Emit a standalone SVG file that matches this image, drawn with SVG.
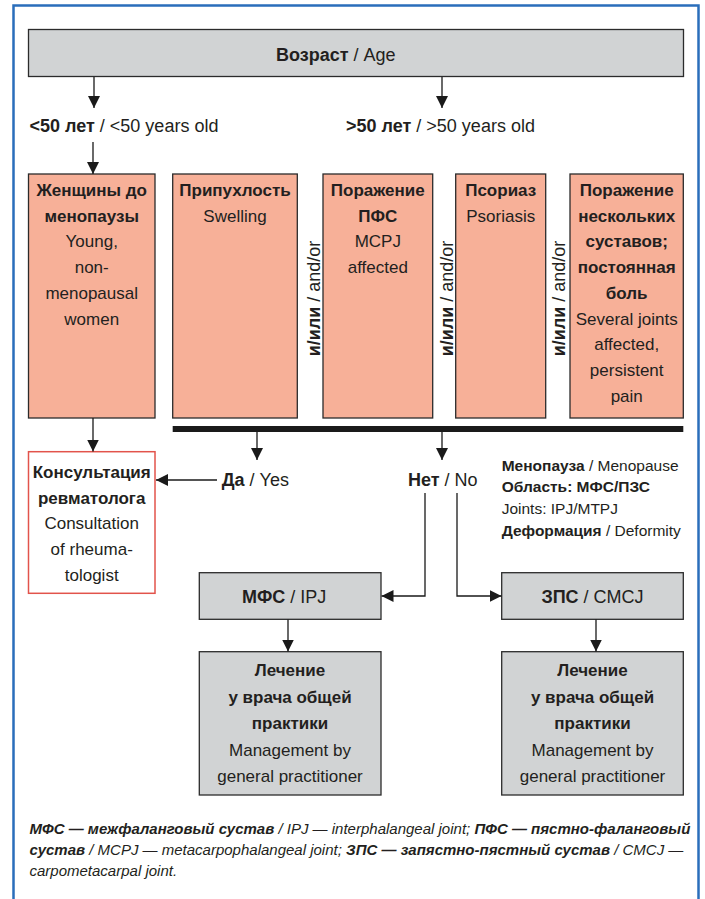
<svg xmlns="http://www.w3.org/2000/svg" width="705" height="899" viewBox="0 0 705 899">
<style>
text{font-family:"Liberation Sans",Arial,sans-serif;fill:#231f20}
.b{font-weight:bold}
.t18{font-size:18px}
.t17{font-size:17px}
.t15{font-size:15.5px}
.c{text-anchor:middle}
.pink{fill:#f7b098;stroke:#2b2b2b;stroke-width:1.3}
.gray{fill:#d1d3d4;stroke:#2b2b2b;stroke-width:1.3}
.red{fill:#ffffff;stroke:#e2534b;stroke-width:1.5}
.ln{fill:none;stroke:#1a1a1a;stroke-width:1.3;marker-end:url(#ah)}
.foot{font-size:15px;font-style:italic}
</style>
<defs>
<marker id="ah" viewBox="0 0 12 12" refX="12" refY="6" markerWidth="12" markerHeight="12" markerUnits="userSpaceOnUse" orient="auto">
<path d="M0,0 L12,6 L0,12 z" fill="#1a1a1a"/>
</marker>
</defs>
<rect x="0" y="0" width="705" height="899" fill="#ffffff"/>
<rect x="13.5" y="5.5" width="685" height="910" fill="none" stroke="#2a6ebb" stroke-width="2.5"/>

<g id="age">
<rect class="gray" x="28.5" y="29.5" width="655" height="47"/>
<text class="t18" x="276" y="61"><tspan class="b">Возраст</tspan> / Age</text>
</g>

<g id="lt50">
<text class="t18" x="29.5" y="132"><tspan class="b">&lt;50 лет</tspan> / &lt;50 years old</text>
</g>
<g id="gt50">
<text class="t18" x="346" y="132"><tspan class="b">&gt;50 лет</tspan> / &gt;50 years old</text>
</g>

<g id="women">
<rect class="pink" x="28.5" y="174" width="126.5" height="244"/>
<text class="t17 c" x="91.7" y="196"><tspan class="b">Женщины до</tspan><tspan class="b" x="91.7" dy="25.7">менопаузы</tspan><tspan x="91.7" dy="25.7">Young,</tspan><tspan x="91.7" dy="25.7">non-</tspan><tspan x="91.7" dy="25.7">menopausal</tspan><tspan x="91.7" dy="25.7">women</tspan></text>
</g>

<g id="swelling">
<rect class="pink" x="172.7" y="174" width="124.6" height="244"/>
<text class="t17 c" x="235" y="196"><tspan class="b">Припухлость</tspan><tspan x="235" dy="25.7">Swelling</tspan></text>
</g>

<g id="mcpj">
<rect class="pink" x="323" y="174" width="109.7" height="244"/>
<text class="t17 c" x="377.8" y="196"><tspan class="b">Поражение</tspan><tspan class="b" x="377.8" dy="25.7">ПФС</tspan><tspan x="377.8" dy="25.7">MCPJ</tspan><tspan x="377.8" dy="25.7">affected</tspan></text>
</g>

<g id="psoriasis">
<rect class="pink" x="455.7" y="174" width="90" height="244"/>
<text class="t17 c" x="500.7" y="196"><tspan class="b">Псориаз</tspan><tspan x="500.7" dy="25.7">Psoriasis</tspan></text>
</g>

<g id="several">
<rect class="pink" x="570" y="174" width="113.3" height="244"/>
<text class="t17 c" x="626.7" y="196"><tspan class="b">Поражение</tspan><tspan class="b" x="626.7" dy="25.7">нескольких</tspan><tspan class="b" x="626.7" dy="25.7">суставов;</tspan><tspan class="b" x="626.7" dy="25.7">постоянная</tspan><tspan class="b" x="626.7" dy="25.7">боль</tspan><tspan x="626.7" dy="25.7">Several joints</tspan><tspan x="626.7" dy="25.7">affected,</tspan><tspan x="626.7" dy="25.7">persistent</tspan><tspan x="626.7" dy="25.7">pain</tspan></text>
</g>

<g id="andor1">
<text class="t18 c" transform="translate(313,298.5) rotate(-90)" x="0" y="6.5"><tspan class="b">и/или</tspan> / and/or</text>
</g>
<g id="andor2">
<text class="t18 c" transform="translate(446.7,298.5) rotate(-90)" x="0" y="6.5"><tspan class="b">и/или</tspan> / and/or</text>
</g>
<g id="andor3">
<text class="t18 c" transform="translate(558,298.5) rotate(-90)" x="0" y="6.5"><tspan class="b">и/или</tspan> / and/or</text>
</g>

<g id="bar">
<rect x="172.7" y="426" width="510.6" height="6" fill="#1a1a1a"/>
</g>

<g id="consult">
<rect class="red" x="28.5" y="451.7" width="126.5" height="141.6"/>
<text class="t17 c" x="91.7" y="477.7"><tspan class="b">Консультация</tspan><tspan class="b" x="91.7" dy="25.8">ревматолога</tspan><tspan x="91.7" dy="25.8">Consultation</tspan><tspan x="91.7" dy="25.8">of rheuma-</tspan><tspan x="91.7" dy="25.8">tologist</tspan></text>
</g>

<g id="yes">
<text class="t18" x="221.7" y="486"><tspan class="b">Да</tspan> / Yes</text>
</g>
<g id="no">
<text class="t18" x="408" y="486"><tspan class="b">Нет</tspan> / No</text>
</g>

<g id="info">
<text class="t15" x="501.7" y="470.5"><tspan class="b">Менопауза</tspan> / Menopause</text>
<text class="t15 b" x="501.7" y="492">Область: МФС/ПЗС</text>
<text class="t15" x="501.7" y="513.5">Joints: IPJ/MTPJ</text>
<text class="t15" x="501.7" y="535.5"><tspan class="b">Деформация</tspan> / Deformity</text>
</g>

<g id="ipj">
<rect class="gray" x="199.3" y="572.7" width="181.7" height="46.6"/>
<text class="t18" x="242" y="602.5"><tspan class="b">МФС</tspan> / IPJ</text>
</g>
<g id="cmcj">
<rect class="gray" x="501.7" y="572.7" width="181.6" height="46.6"/>
<text class="t18 c" x="592.5" y="602.5"><tspan class="b">ЗПС</tspan> / CMCJ</text>
</g>

<g id="gp1">
<rect class="gray" x="199.3" y="651.7" width="181.7" height="143.3"/>
<text class="t17 c" x="290" y="676"><tspan class="b">Лечение</tspan><tspan class="b" x="290" dy="26.5">у врача общей</tspan><tspan class="b" x="290" dy="26.5">практики</tspan><tspan x="290" dy="26.5">Management by</tspan><tspan x="290" dy="26.5">general practitioner</tspan></text>
</g>
<g id="gp2">
<rect class="gray" x="501.7" y="651.7" width="181.6" height="143.3"/>
<text class="t17 c" x="592.5" y="676"><tspan class="b">Лечение</tspan><tspan class="b" x="592.5" dy="26.5">у врача общей</tspan><tspan class="b" x="592.5" dy="26.5">практики</tspan><tspan x="592.5" dy="26.5">Management by</tspan><tspan x="592.5" dy="26.5">general practitioner</tspan></text>
</g>

<g id="connectors">
<path class="ln" d="M94,77 V108"/>
<path class="ln" d="M442,77 V108"/>
<path class="ln" d="M93,142 V174"/>
<path class="ln" d="M93,418 V451.5"/>
<path class="ln" d="M257,432 V460"/>
<path class="ln" d="M442,432 V460"/>
<path class="ln" d="M217,480 H156"/>
<path class="ln" d="M425,493 V596 H381.5"/>
<path class="ln" d="M457,493 V596 H501.5"/>
<path class="ln" d="M288,619.5 V651.5"/>
<path class="ln" d="M596,619.5 V651.5"/>
</g>

<g id="footnote">
<text class="foot" x="29.5" y="834"><tspan class="b">МФС — межфаланговый сустав</tspan> / IPJ — interphalangeal joint; <tspan class="b">ПФС — пястно-фаланговый</tspan></text>
<text class="foot" x="29.5" y="855"><tspan class="b">сустав</tspan> / MCPJ — metacarpophalangeal joint; <tspan class="b">ЗПС — запястно-пястный сустав</tspan> / CMCJ —</text>
<text class="foot" x="29.5" y="876">carpometacarpal joint.</text>
</g>
</svg>
